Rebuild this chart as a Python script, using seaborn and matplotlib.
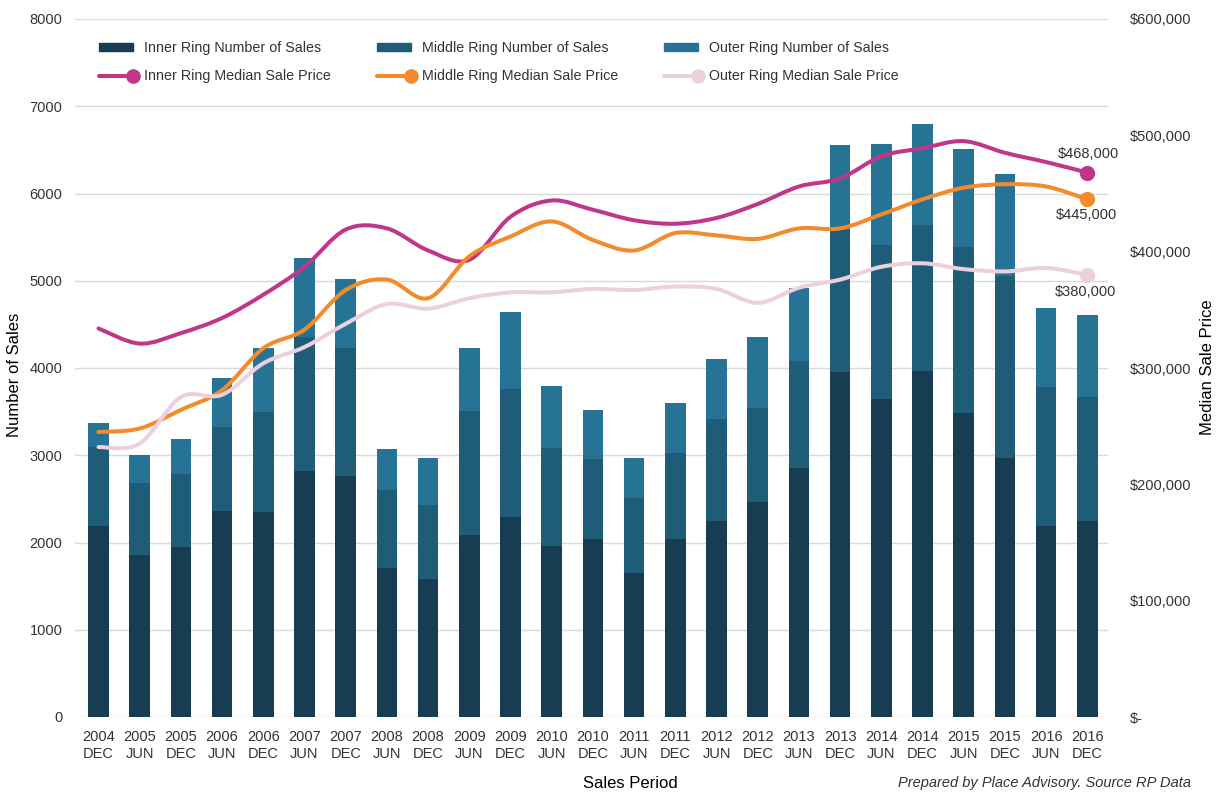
import numpy as np
import pandas as pd
import matplotlib
matplotlib.use("Agg")
import matplotlib.pyplot as plt
import seaborn as sns
from matplotlib.path import Path
from matplotlib.patches import PathPatch, Patch
from matplotlib.lines import Line2D
from matplotlib.ticker import FuncFormatter, MultipleLocator

periods = ["2004 DEC", "2005 JUN", "2005 DEC", "2006 JUN", "2006 DEC", "2007 JUN", "2007 DEC",
           "2008 JUN", "2008 DEC", "2009 JUN", "2009 DEC", "2010 JUN", "2010 DEC", "2011 JUN",
           "2011 DEC", "2012 JUN", "2012 DEC", "2013 JUN", "2013 DEC", "2014 JUN", "2014 DEC",
           "2015 JUN", "2015 DEC", "2016 JUN", "2016 DEC"]

# number of sales per ring
inner_sales = [2190, 1857, 1948, 2361, 2350, 2819, 2762, 1708, 1582, 2086, 2292, 1960, 2040,
               1650, 2040, 2246, 2464, 2858, 3954, 3645, 3966, 3484, 2968, 2189, 2246]
middle_sales = [900, 825, 837, 963, 1146, 1533, 1467, 894, 848, 1421, 1467, 1123, 917,
                860, 986, 1169, 1077, 1222, 1628, 1765, 1673, 1903, 2086, 1593, 1422]
outer_sales = [276, 321, 401, 561, 733, 909, 791, 470, 538, 722, 883, 711, 562,
               458, 573, 688, 818, 837, 974, 1157, 1158, 1123, 1169, 906, 939]

# median sale price per ring
inner_price = [334000, 321000, 330000, 343000, 363000, 387000, 419000, 420000, 401000, 393000,
               430000, 444000, 436000, 427000, 424000, 429000, 441000, 456000, 463000, 482000,
               489000, 495000, 485000, 477000, 468000]
middle_price = [245000, 248000, 264000, 281000, 317000, 333000, 367000, 376000, 360000, 396000,
                413000, 426000, 410000, 401000, 416000, 414000, 411000, 420000, 420000, 432000,
                445000, 455000, 458000, 456000, 445000]
outer_price = [232000, 235000, 275000, 277000, 304000, 318000, 338000, 355000, 351000, 360000,
               365000, 365000, 368000, 367000, 370000, 368000, 356000, 369000, 376000, 387000,
               390000, 385000, 383000, 386000, 380000]

c_inner_bar, c_middle_bar, c_outer_bar = "#163d51", "#1f5c78", "#277396"
c_inner_line, c_middle_line, c_outer_line = "#c0378a", "#f28b2c", "#ecd0de"

sns.set_theme(style="white")
plt.rcParams["font.family"] = ["Liberation Sans", "DejaVu Sans"]
txt = "#333333"

df = pd.DataFrame({"period": [p.replace(" ", "\n") for p in periods],
                   "inner": inner_sales, "middle": middle_sales, "outer": outer_sales})
df["mid_cum"] = df["inner"] + df["middle"]
df["total"] = df["mid_cum"] + df["outer"]

fig = plt.figure(figsize=(12.2, 8.01), dpi=100)
ax = fig.add_axes([75 / 1220, 1 - 717 / 801, 1033 / 1220, 698 / 801])

# stacked bars drawn as overlapping cumulative totals
for col, c in [("total", c_outer_bar), ("mid_cum", c_middle_bar), ("inner", c_inner_bar)]:
    sns.barplot(data=df, x="period", y=col, color=c, saturation=1, width=0.5, ax=ax,
                linewidth=0, edgecolor="none")

ax.set_ylim(0, 8000)
ax.set_xlim(-0.57, 24.5)
ax.yaxis.set_major_locator(MultipleLocator(1000))
ax.grid(axis="y", color="#d9d9d9", lw=1)
ax.set_axisbelow(True)
for s in ax.spines.values():
    s.set_visible(False)
ax.tick_params(axis="y", length=0, pad=9, labelsize=10.5, labelcolor=txt)
ax.tick_params(axis="x", length=0, pad=9.5, labelsize=10.5, labelcolor=txt)
for t in ax.get_xticklabels():
    t.set_linespacing(1.25)
ax.set_xlabel("Sales Period", fontsize=12, color="black")
ax.xaxis.set_label_coords(630 / 1220, 1 - 783 / 801, transform=fig.transFigure)
ax.xaxis.label.set_va("center")
ax.set_ylabel("Number of Sales", fontsize=12, color="black", va="center", ha="center")
ax.yaxis.set_label_coords(15 / 1220, 1 - 375 / 801, transform=fig.transFigure)

ax2 = ax.twinx()
ax2.set_ylim(0, 600000)
ax2.yaxis.set_major_locator(MultipleLocator(100000))
ax2.yaxis.set_major_formatter(FuncFormatter(lambda v, p: "$-" if v == 0 else f"${v:,.0f}"))
ax2.tick_params(axis="y", length=0, pad=16, labelsize=10.5, labelcolor=txt)
for s in ax2.spines.values():
    s.set_visible(False)
ax2.set_ylabel("Median Sale Price", fontsize=12, color="black", va="center", ha="center")
ax2.yaxis.set_label_coords(1208 / 1220, 1 - 367 / 801, transform=fig.transFigure)


def smooth_path(xs, ys):
    xs = np.asarray(xs, float)
    ys = np.asarray(ys, float)
    px = np.concatenate([[xs[0]], xs, [xs[-1]]])
    py = np.concatenate([[ys[0]], ys, [ys[-1]]])
    verts = [(xs[0], ys[0])]
    codes = [Path.MOVETO]
    for i in range(len(xs) - 1):
        c1 = (px[i + 1] + (px[i + 2] - px[i]) / 6, py[i + 1] + (py[i + 2] - py[i]) / 6)
        c2 = (px[i + 2] - (px[i + 3] - px[i + 1]) / 6, py[i + 2] - (py[i + 3] - py[i + 1]) / 6)
        verts += [c1, c2, (xs[i + 1], ys[i + 1])]
        codes += [Path.CURVE4] * 3
    return Path(verts, codes)


xpos = np.arange(len(periods))
lw = 2.9
ms = 9.5
for vals, col in [(inner_price, c_inner_line), (middle_price, c_middle_line), (outer_price, c_outer_line)]:
    ax2.add_patch(PathPatch(smooth_path(xpos, vals), fill=False, edgecolor=col, lw=lw,
                            capstyle="round", joinstyle="round"))
    ax2.plot(xpos[-1], vals[-1], "o", color=col, ms=ms + 0.5)

last = len(periods) - 1
ax2.annotate(f"${inner_price[-1]:,}", (last, inner_price[-1]), xytext=(1, 8),
             textcoords="offset points", ha="center", va="bottom", fontsize=10.5, color=txt)
ax2.annotate(f"${middle_price[-1]:,}", (last, middle_price[-1]), xytext=(-1, -6),
             textcoords="offset points", ha="center", va="top", fontsize=10.5, color=txt)
ax2.annotate(f"${outer_price[-1]:,}", (last, outer_price[-1]), xytext=(-1, -7),
             textcoords="offset points", ha="center", va="top", fontsize=10.5, color=txt)

handles = [Patch(color=c_inner_bar), Line2D([], [], color=c_inner_line, lw=lw, marker="o", ms=ms),
           Patch(color=c_middle_bar), Line2D([], [], color=c_middle_line, lw=lw, marker="o", ms=ms),
           Patch(color=c_outer_bar), Line2D([], [], color=c_outer_line, lw=lw, marker="o", ms=ms)]
labels = ["Inner Ring Number of Sales", "Inner Ring Median Sale Price",
          "Middle Ring Number of Sales", "Middle Ring Median Sale Price",
          "Outer Ring Number of Sales", "Outer Ring Median Sale Price"]
leg = ax2.legend(handles, labels, ncol=3, loc="upper left", frameon=False,
                 bbox_to_anchor=(99 / 1220, 1 - 41 / 801), bbox_transform=fig.transFigure,
                 fontsize=10.3, handlelength=2.4, handletextpad=0.75, columnspacing=3.2,
                 labelspacing=1.0, borderpad=0, borderaxespad=0, handleheight=0.5, numpoints=1)
for t in leg.get_texts():
    t.set_color(txt)
for ln in leg.get_lines():
    ln.set_markevery([2])

fig.text(1191 / 1220, 1 - 783 / 801, "Prepared by Place Advisory. Source RP Data",
         ha="right", va="center", fontsize=10.5, style="italic", color=txt)

fig.savefig("out.png", dpi=100)
